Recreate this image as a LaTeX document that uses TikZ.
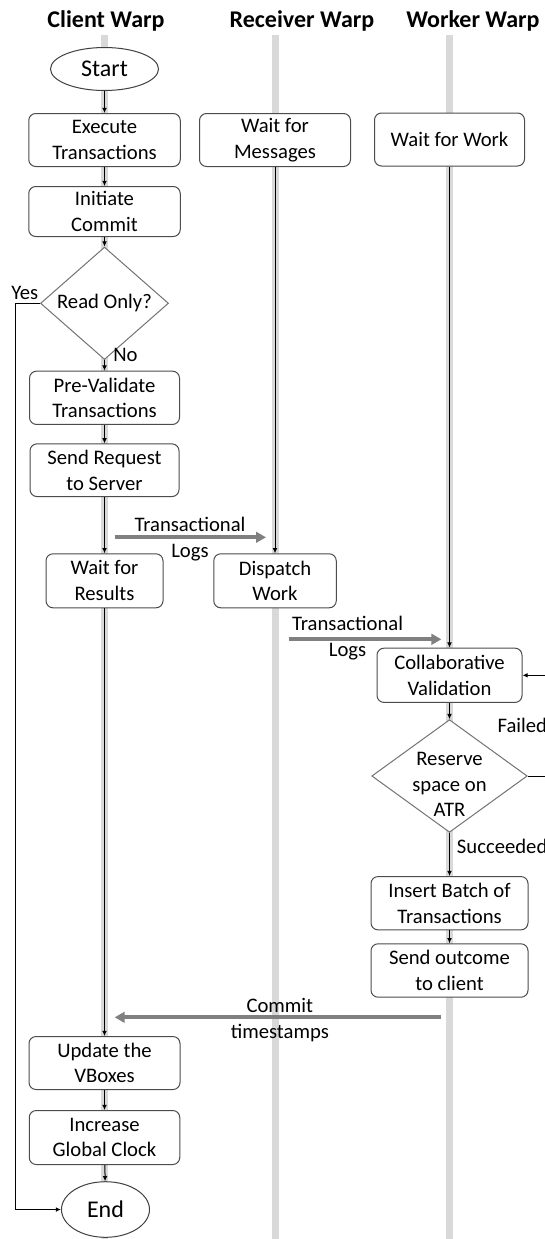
\documentclass[tikz,border=0pt]{standalone}
\usepackage{fontspec}
\setmainfont{Carlito}
\usetikzlibrary{shapes.geometric,arrows.meta}

\begin{document}
\begin{tikzpicture}[x=0.75pt,y=-0.75pt,
  every node/.style={font=\fontsize{15.5}{19.3}\selectfont, text=black},
  sz/.style 2 args={minimum width=#1*0.75pt, minimum height=#2*0.75pt},
  box/.style={draw=black!70, line width=0.75pt, rounded corners=5.25pt,
    fill=white, align=center, inner sep=0pt},
  terminal/.style={ellipse, draw=black!75, line width=0.75pt, fill=white, inner sep=0pt,
    font=\fontsize{18}{21}\selectfont},
  decision/.style={diamond, draw=black!55, line width=0.75pt, fill=white, inner sep=0pt},
  lane/.style={line width=5.25pt, draw=black!15},
  flow/.style={draw=black, line width=0.75pt, -{Latex[length=3.9pt,width=3.6pt]}},
  msg/.style={draw=black!50, line width=3pt, -{Triangle[length=7.5pt,width=8pt]}},
  title/.style={font=\fontsize{18}{21}\selectfont\bfseries},
  lbl/.style={align=center, inner sep=0pt}]

\useasboundingbox (0,0) rectangle (545,1239);

% column headings
\node[title] (tclient) at (106,21) {Client Warp};
\node[title] (trecv)   at (302,21) {Receiver Warp};
\node[title] (twork)   at (473,21) {Worker Warp};

% swim lanes
\draw[lane] (104.5,35) -- (104.5,1239);
\draw[lane] (275,35) -- (275,1239);
\draw[lane] (449.5,35) -- (449.5,1239);

% client warp
\node[terminal, sz={108}{43}] (start) at (104.5,69) {Start};
\node[box, sz={151.5}{53}] (exec) at (104.5,140) {Execute\\Transactions};
\node[box, sz={151.5}{50}] (initiate) at (104.5,211.5) {Initiate\\Commit};
\node[decision, sz={128}{92}] (readonly) at (104.5,303.3) {Read Only?};
\node[box, sz={150}{53.3}] (preval) at (104.5,397.8) {Pre-Validate\\Transactions};
\node[box, sz={149}{52.7}] (sendreq) at (104.5,470.2) {Send Request\\to Server};
\node[box, sz={117}{54}] (waitres) at (104.5,580.8) {Wait for\\Results};
\node[box, sz={151}{53}] (update) at (104.5,1063) {Update the\\VBoxes};
\node[box, sz={150.5}{54}] (increase) at (104.5,1137.5) {Increase\\Global Clock};
\node[terminal, sz={88}{55.6}] (end) at (105.5,1209.5) {End};

% receiver warp
\node[box, sz={151}{53}] (waitmsg) at (275,140) {Wait for\\Messages};
\node[box, sz={122.5}{54}] (dispatch) at (275,580.8) {Dispatch\\Work};

% worker warp
\node[box, sz={150}{53}] (waitwork) at (449.5,139.5) {Wait for Work};
\node[box, sz={145}{54.3}] (collab) at (449.5,675.3) {Collaborative\\Validation};
\node[decision, sz={155.5}{112.7}] (reserve) at (449.5,776) {};
\node[lbl] (reservetxt) at (449.5,784.5) {Reserve\\space on\\ATR};
\node[box, sz={157}{53.3}] (insert) at (449.5,903.2) {Insert Batch of\\Transactions};
\node[box, sz={157}{53.4}] (sendout) at (449.5,970.5) {Send outcome\\to client};

% control flow
\draw[flow] (start) -- (exec);
\draw[flow] (exec) -- (initiate);
\draw[flow] (initiate) -- (readonly);
\draw[flow] (readonly) -- (preval);
\draw[flow] (preval) -- (sendreq);
\draw[flow] (sendreq) -- (waitres);
\draw[flow] (waitres) -- (update);
\draw[flow] (update) -- (increase);
\draw[flow] (increase) -- (end);
\coordinate (yesx) at (15.6,303.3);
\draw[flow] (readonly.west) -- (yesx) |- (end.west);
\node (yes) at (24.8,292.7) {Yes};
\node[anchor=west, inner sep=0pt] (no) at (113,355) {No};

\draw[flow] (waitmsg) -- (dispatch);
\draw[flow] (waitwork) -- (collab);
\draw[flow] (collab) -- (reserve);
\draw[flow] (reserve) -- (insert);
\draw[flow] (insert) -- (sendout);
\coordinate (failx) at (556,720);
\draw[flow] (reserve.east) -| (failx) |- (collab.east);
\node[anchor=west, inner sep=0pt] (failed) at (497.3,725) {Failed};
\node[anchor=west, inner sep=0pt] (succ) at (456.7,846.7) {Succeeded};

% messages between warps
\coordinate (l1s) at (114.7,537.3);
\coordinate (l1e) at (266,537.3);
\draw[msg] (l1s) -- (l1e);
\node[lbl] (l1txt) at (190,539) {Transactional\\Logs};

\coordinate (l2s) at (288.5,639.3);
\coordinate (l2e) at (441.4,639.3);
\draw[msg] (l2s) -- (l2e);
\node[lbl] (l2txt) at (347.6,638.3) {Transactional\\Logs};

\coordinate (cts) at (441.4,1017.3);
\coordinate (cte) at (114.7,1017.3);
\draw[msg] (cts) -- (cte);
\node[lbl] (cttxt) at (279.8,1019.7) {Commit\\timestamps};
\end{tikzpicture}
\end{document}
